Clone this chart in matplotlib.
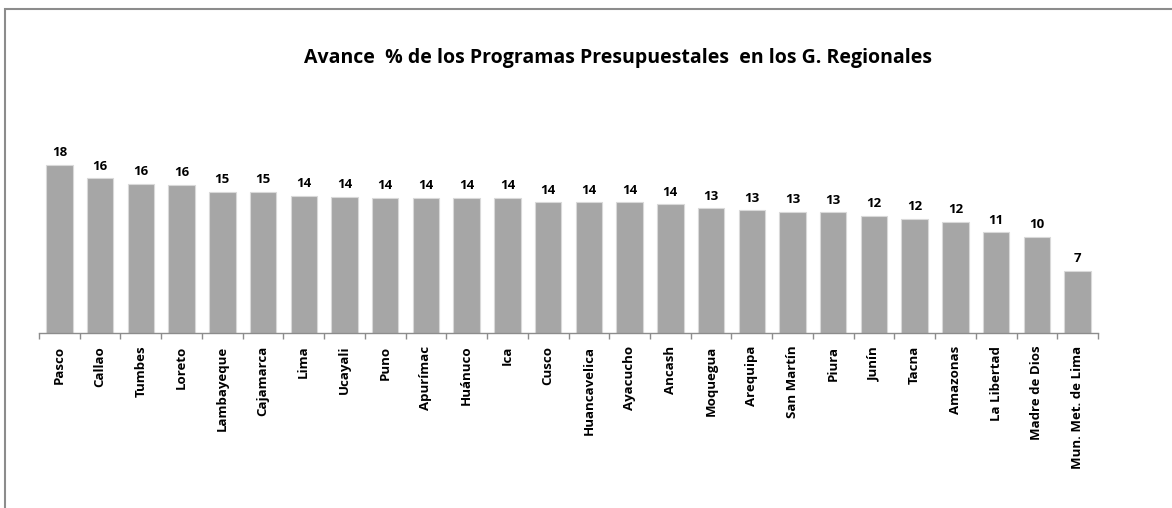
import matplotlib
matplotlib.use("Agg")
import matplotlib.pyplot as plt
from matplotlib.patches import Rectangle

plt.rcParams["font.family"] = ["Open Sans", "DejaVu Sans"]

# Avance porcentual por gobierno regional
regiones = [
    "Pasco", "Callao", "Tumbes", "Loreto", "Lambayeque", "Cajamarca", "Lima",
    "Ucayali", "Puno", "Apurímac", "Huánuco", "Ica", "Cusco", "Huancavelica",
    "Ayacucho", "Ancash", "Moquegua", "Arequipa", "San Martín", "Piura",
    "Junín", "Tacna", "Amazonas", "La Libertad", "Madre de Dios",
    "Mun. Met. de Lima",
]
avance = [
    17.71, 16.28, 15.71, 15.58, 14.87, 14.85, 14.45, 14.35, 14.24, 14.24,
    14.24, 14.22, 13.76, 13.76, 13.75, 13.55, 13.13, 12.92, 12.74, 12.73,
    12.32, 12.01, 11.72, 10.61, 10.12, 6.54,
]

titulo = "Avance  % de los Programas Presupuestales  en los G. Regionales"

fig = plt.figure(figsize=(11.72, 5.08), dpi=100)
fig.patch.set_facecolor("white")

# marco gris del área del gráfico
fig.add_artist(Rectangle((5 / 1172, -0.1), 1.2, 1 - 9.5 / 508 + 0.1,
                         transform=fig.transFigure, fill=False,
                         edgecolor="#8c8c8c", linewidth=1.5))

ax = fig.add_axes([39 / 1172, 1 - 333.3 / 508, 1059 / 1172, 190.4 / 508])
x = range(len(regiones))
bars = ax.bar(x, avance, width=0.65, color="#a6a6a6",
              edgecolor="#d9d9d9", linewidth=0.8)

for rect, v in zip(bars, avance):
    ax.annotate(f"{v:.0f}", (rect.get_x() + rect.get_width() / 2, v),
                xytext=(0, 4), textcoords="offset points",
                ha="center", va="bottom", fontsize=9.5, fontweight="bold")

ax.set_xlim(-0.5, len(regiones) - 0.5)
ax.set_ylim(0, 20)
ax.set_yticks([])
for side in ("top", "right", "left"):
    ax.spines[side].set_visible(False)
ax.spines["bottom"].set_color("#8c8c8c")
ax.spines["bottom"].set_linewidth(1.0)

ax.set_xticks(list(x))
ax.set_xticklabels(regiones, rotation=90, fontsize=9.5, fontweight="bold")
ax.tick_params(axis="x", which="major", length=0, pad=9)
ax.set_xticks([i - 0.5 for i in range(len(regiones) + 1)], minor=True)
ax.tick_params(axis="x", which="minor", length=4, color="#8c8c8c", width=1.0)

fig.text(618 / 1172, 1 - 58 / 508, titulo, ha="center", va="center",
         fontsize=14, fontweight="bold")

fig.savefig("out.png", dpi=100)
